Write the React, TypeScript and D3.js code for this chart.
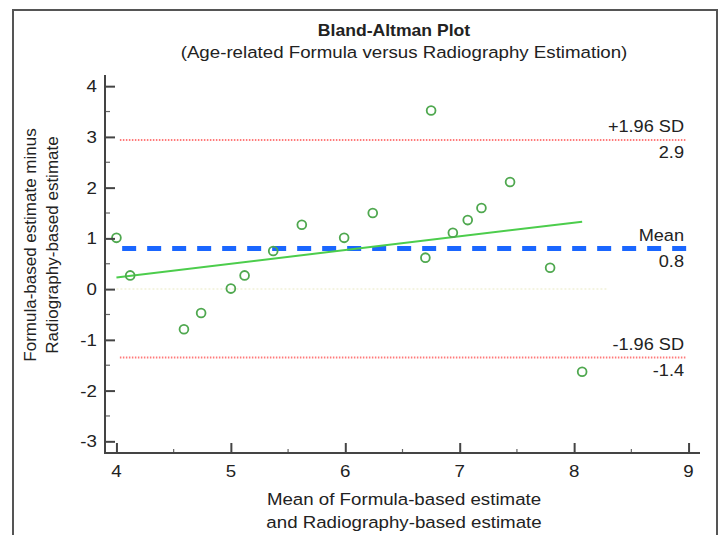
import React, { useEffect, useRef } from 'react';
import * as d3 from 'd3';

// mean of the two estimates (x) and their difference (y)
const meanValues = [4.0, 4.12, 4.59, 4.74, 5.0, 5.12, 5.37, 5.62, 5.99, 6.24, 6.70, 6.75, 6.94, 7.07, 7.19, 7.44, 7.79, 8.07];
const diffValues = [1.01, 0.27, -0.79, -0.47, 0.01, 0.27, 0.75, 1.27, 1.01, 1.5, 0.62, 3.52, 1.11, 1.36, 1.6, 2.11, 0.42, -1.63];

const xTicks = [4, 5, 6, 7, 8, 9];
const yTicks = [-3, -2, -1, 0, 1, 2, 3, 4];

// limits of agreement
const limitNames = ['+1.96 SD', 'Mean', '-1.96 SD'];
const limitValues = [2.94, 0.8, -1.35];
const limitText = ['2.9', '0.8', '-1.4'];

// regression of difference on mean
const regressionX = [4.0, 8.07];
const regressionY = [0.23, 1.33];

const W = 720;
const H = 535;
const FONT = 'Liberation Sans, Arial, Helvetica, sans-serif';
// the source picture is a bit wider than tall, so horizontal text is stretched
const STRETCH = 1.1;

const BlandAltman = () => {
  const svgRef = useRef<SVGSVGElement>(null);

  useEffect(() => {
    const svg = d3.select(svgRef.current);
    svg.selectAll('*').remove();

    const x = d3.scaleLinear().domain([3.9, 9.1]).range([105, 700]);
    const y = d3.scaleLinear().domain([-3.23, 4.22]).range([453, 75]);

    const label = (px: number, py: number, str: string | number, size: number, anchor = 'middle', weight = 'normal') =>
      svg.append('text')
        .attr('transform', `translate(${px},${py}) scale(${STRETCH},1)`)
        .attr('text-anchor', anchor)
        .attr('font-size', size)
        .attr('font-weight', weight)
        .attr('fill', '#222')
        .text(str);

    // outer frame
    svg.append('rect')
      .attr('x', 13).attr('y', 10)
      .attr('width', 704).attr('height', 560)
      .attr('fill', 'white')
      .attr('stroke', '#555')
      .attr('stroke-width', 2);

    // titles
    label(394, 36, 'Bland-Altman Plot', 16, 'middle', 'bold');
    label(404, 58, '(Age-related Formula versus Radiography Estimation)', 17);

    // zero line (faint)
    svg.append('line')
      .attr('x1', x(4)).attr('x2', x(8.3))
      .attr('y1', y(0)).attr('y2', y(0))
      .attr('stroke', '#f1f1d8')
      .attr('stroke-width', 1.5)
      .attr('stroke-dasharray', '2,2');

    // limits of agreement
    limitValues.forEach((v, i) => {
      const isMean = i === 1;
      svg.append('line')
        .attr('x1', x(isMean ? 4.05 : 4.03))
        .attr('x2', x(isMean ? 9.03 : 8.98))
        .attr('y1', y(v)).attr('y2', y(v))
        .attr('stroke', isMean ? '#1a66ff' : '#ff7a7a')
        .attr('stroke-width', isMean ? 5 : 2)
        .attr('stroke-dasharray', isMean ? '14,11' : '1.5,1.5');

      label(684, y(v) - 8, limitNames[i], 16.5, 'end');
      label(684, y(v) + 18, limitText[i], 16.5, 'end');
    });

    // regression line
    const line = d3.line<number>()
      .x((d) => x(d))
      .y((_, i) => y(regressionY[i]));

    svg.append('path')
      .datum(regressionX)
      .attr('d', line)
      .attr('fill', 'none')
      .attr('stroke', '#4ccd4c')
      .attr('stroke-width', 2);

    // points
    svg.append('g')
      .selectAll('circle')
      .data(meanValues)
      .join('circle')
      .attr('cx', (d) => x(d))
      .attr('cy', (_, i) => y(diffValues[i]))
      .attr('r', 4.4)
      .attr('fill', 'none')
      .attr('stroke', '#4fa84f')
      .attr('stroke-width', 1.8);

    // y axis
    const yAxis = svg.append('g').attr('transform', `translate(${x.range()[0]},0)`);
    yAxis.call(d3.axisRight(y).tickValues(yTicks).tickSize(10).tickFormat(() => ''));
    yAxis.selectAll('line').attr('stroke', '#444').attr('stroke-width', 2);
    yAxis.select('.domain').remove();
    yAxis.selectAll('.minor')
      .data(d3.range(-2.5, 4, 1))
      .join('line')
      .attr('class', 'minor')
      .attr('x1', 0).attr('x2', 5)
      .attr('y1', (d) => y(d)).attr('y2', (d) => y(d))
      .attr('stroke', '#666')
      .attr('stroke-width', 1.2);
    yAxis.append('line')
      .attr('x1', 0).attr('x2', 0)
      .attr('y1', y.range()[1]).attr('y2', y.range()[0] + 1)
      .attr('stroke', '#444')
      .attr('stroke-width', 2);

    yTicks.forEach((t) => label(97, y(t) + 6, t, 17, 'end'));

    // x axis
    const xAxis = svg.append('g').attr('transform', `translate(0,${y.range()[0]})`);
    xAxis.call(d3.axisTop(x).tickValues(xTicks).tickSize(10).tickFormat(() => ''));
    xAxis.selectAll('line').attr('stroke', '#444').attr('stroke-width', 2);
    xAxis.select('.domain').remove();
    xAxis.selectAll('.minor')
      .data(d3.range(4.5, 9, 1))
      .join('line')
      .attr('class', 'minor')
      .attr('x1', (d) => x(d)).attr('x2', (d) => x(d))
      .attr('y1', 0).attr('y2', -4)
      .attr('stroke', '#666')
      .attr('stroke-width', 1.2);
    xAxis.append('line')
      .attr('x1', x.range()[0] - 1).attr('x2', x.range()[1])
      .attr('y1', 0).attr('y2', 0)
      .attr('stroke', '#444')
      .attr('stroke-width', 2);

    xTicks.forEach((t) => label(x(t), 477, t, 17));

    // axis titles
    label(404, 505, 'Mean of Formula-based estimate', 17);
    label(404, 528, 'and Radiography-based estimate', 17);

    const yTitle = svg.append('text')
      .attr('transform', 'translate(0,245) rotate(-90)')
      .attr('text-anchor', 'middle')
      .attr('font-size', 17)
      .attr('fill', '#222');
    yTitle.append('tspan').attr('x', 0).attr('y', 36).text('Formula-based estimate minus');
    yTitle.append('tspan').attr('x', 0).attr('y', 58).text('Radiography-based estimate');
  }, []);

  return (
    <svg
      ref={svgRef}
      width={W}
      height={H}
      style={{ position: 'absolute', left: 0, top: 0, fontFamily: FONT, background: 'white' }}
    />
  );
};

export default function App() {
  return <BlandAltman />;
}
